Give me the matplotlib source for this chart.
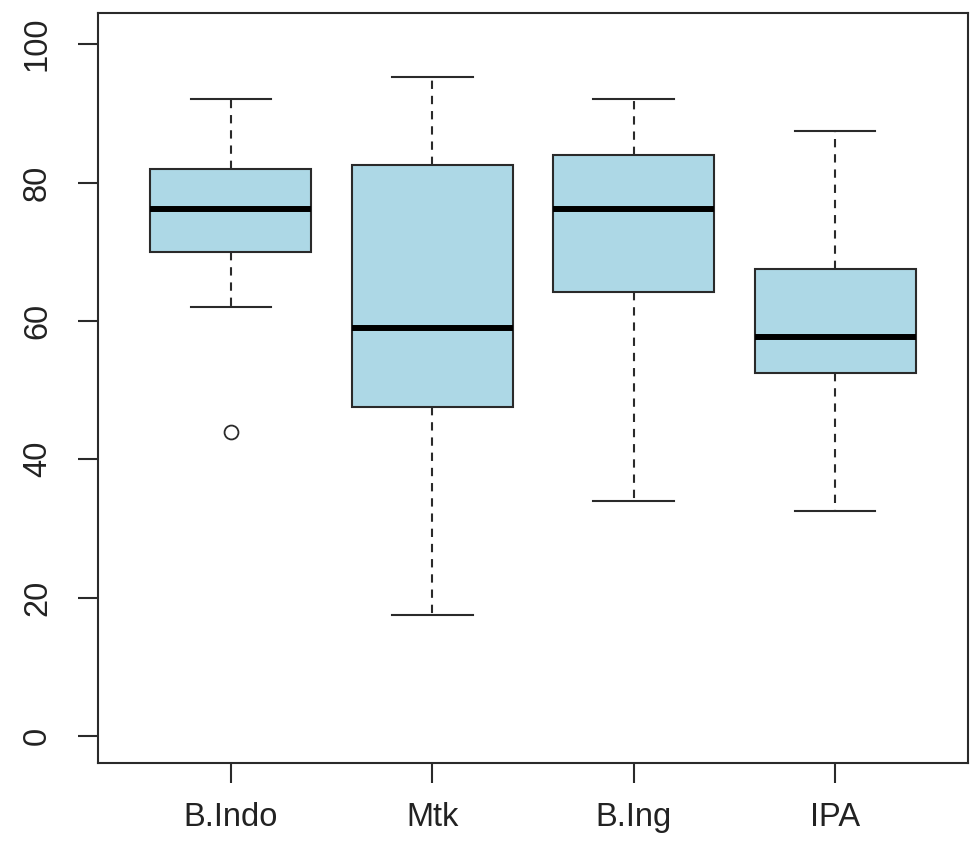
import matplotlib
matplotlib.use("Agg")
import matplotlib.pyplot as plt

categories = ["B.Indo", "Mtk", "B.Ing", "IPA"]
whislo = [62.0, 17.5, 34.0, 32.5]
q1 = [70.0, 47.5, 64.2, 52.5]
med = [76.2, 59.0, 76.2, 57.7]
q3 = [82.0, 82.6, 84.0, 67.5]
whishi = [92.0, 95.2, 92.0, 87.4]
outliers = [[44.0], [], [], []]

plt.rcParams['font.family'] = ['Liberation Sans', 'DejaVu Sans']

fig = plt.figure(figsize=(9.74, 8.5), dpi=100)
ax = fig.add_axes([98/974, 87/850, 870/974, 750/850])

stats = []
for i, c in enumerate(categories):
    stats.append(dict(label=c, whislo=whislo[i], q1=q1[i], med=med[i],
                      q3=q3[i], whishi=whishi[i], fliers=outliers[i]))

ec = '#2a2a2a'
bp = ax.bxp(stats, positions=range(1, len(categories) + 1), widths=0.8,
            patch_artist=True, showfliers=True,
            boxprops=dict(facecolor='#ADD8E6', edgecolor=ec, linewidth=1.5),
            medianprops=dict(color='black', linewidth=4.3, solid_capstyle='butt'),
            whiskerprops=dict(color=ec, linewidth=1.5, linestyle=(0, (4, 3.3))),
            capprops=dict(color=ec, linewidth=1.5),
            flierprops=dict(marker='o', markerfacecolor='none', markeredgecolor=ec,
                            markersize=10, markeredgewidth=1.3))
for cap in bp['caps']:
    x = cap.get_xdata()
    m = (x[0] + x[1]) / 2
    cap.set_xdata([m - 0.2, m + 0.2])

ax.set_xlim(0.34, 4.66)
ax.set_ylim(-3.9, 104.5)
ax.set_yticks([0, 20, 40, 60, 80, 100])
ax.set_yticklabels(['0', '20', '40', '60', '80', '100'], rotation=90, va='center')
ax.set_xticks(range(1, 5))
ax.set_xticklabels(categories)
ax.tick_params(axis='both', length=14.4, width=1.5, color=ec, labelsize=23.5,
               labelcolor='#222222')
ax.tick_params(axis='y', pad=18)
ax.tick_params(axis='x', pad=14)
for s in ax.spines.values():
    s.set_linewidth(1.5)
    s.set_color(ec)

fig.savefig("out.png", dpi=100)
